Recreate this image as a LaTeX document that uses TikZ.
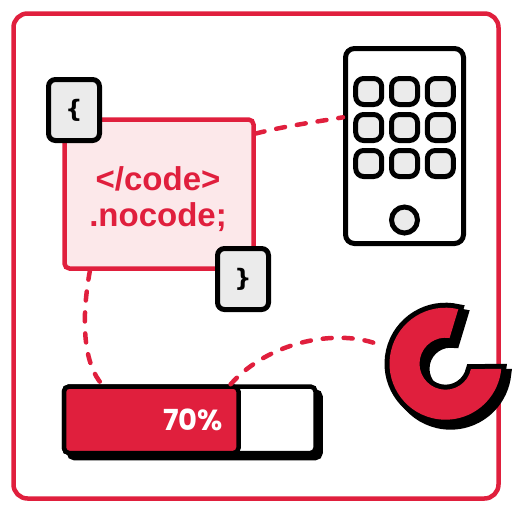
\documentclass[tikz,border=0pt]{standalone}
\usepackage{fontspec}
\setmainfont{Liberation Sans}
\newfontfamily\barfont{Poppins}
\newfontfamily\bracefont{DejaVu Sans}
\usetikzlibrary{calc}
\definecolor{brandred}{HTML}{E01F3D}
\definecolor{codepink}{HTML}{FCE8EA}
\definecolor{keygrey}{HTML}{EBEBEB}
\newcommand{\logoshape}[1]{(#1) ++(-76.8:56) arc[start angle=-76.8,end angle=-354.6,radius=56]
  -- ($(#1)+(-348.2:26)$) arc[start angle=-348.2,end angle=-81,radius=26] -- cycle}

\begin{document}
\begin{tikzpicture}[
  x=1pt,y=-1pt,
  panel/.style={draw=brandred,line width=4.5pt,rounded corners=5pt},
  bracebox/.style={draw=black,fill=keygrey,line width=5pt,rounded corners=7pt,
    minimum width=51pt,minimum height=61pt,inner sep=0pt,
    font=\bracefont\bfseries\fontsize{24}{24}\selectfont},
  appkey/.style={draw=black,fill=keygrey,line width=5pt,rounded corners=8pt,
    minimum size=26pt,inner sep=0pt},
  barbox/.style={draw=black,line width=4.5pt,rounded corners=5pt,inner sep=0pt},
  link/.style={draw=brandred,line width=4.5pt,line cap=round,dash pattern=on 9pt off 12pt}
]
\useasboundingbox (0,0) rectangle (512,512);
\node[panel,rounded corners=14pt,minimum size=485pt] (frame) at (256,256) {};
\node[panel,fill=codepink,minimum width=189pt,minimum height=149pt] (code) at (159,194) {};
\node[font=\bfseries\fontsize{33}{36}\selectfont,align=center,text=brandred,inner sep=0pt] (codetext) at (158,199)
  {</code>\\.nocode;};
\node[bracebox] (openbrace) at (74,110) {\{};
\node[bracebox] (closebrace) at (243,279) {\}};
\node[draw=black,fill=white,line width=5pt,rounded corners=9pt,
  minimum width=118pt,minimum height=195pt] (phone) at (404.5,146) {};
\node[appkey] (keya) at (368.7,91.5) {};
\node[appkey] (keyb) at (404.5,91.5) {};
\node[appkey] (keyc) at (440.3,91.5) {};
\node[appkey] (keyd) at (368.7,127.5) {};
\node[appkey] (keye) at (404.5,127.5) {};
\node[appkey] (keyf) at (440.3,127.5) {};
\node[appkey] (keyg) at (368.7,163.5) {};
\node[appkey] (keyh) at (404.5,163.5) {};
\node[appkey] (keyi) at (440.3,163.5) {};
\node[draw=black,fill=keygrey,line width=5pt,circle,minimum size=26pt,inner sep=0pt] (homekey) at (404.5,220) {};
\node[barbox,fill=black,minimum width=251.5pt,minimum height=66.5pt] (barshadow) at (194.75,424.75) {};
\node[barbox,fill=white,minimum width=251.5pt,minimum height=66.5pt] (bar) at (189.75,419.75) {};
\node[barbox,fill=brandred,minimum width=174.5pt,minimum height=66.5pt,anchor=west] (barfill) at (bar.west) {};
\node[font=\barfont\bfseries\fontsize{29}{29}\selectfont,text=white,inner sep=0pt,anchor=east] (barlabel) at (223,419.5) {70\%};
\coordinate (logo) at (445.5,363.7);
\coordinate (logoshadow) at (450.5,368.7);
\coordinate (logoend) at (381,345.5);
\draw[black,fill=black,line width=10pt] \logoshape{logoshadow};
\draw[black,fill=black,line width=10pt] \logoshape{logo};
\fill[brandred] \logoshape{logo};
\draw[link] (code.32) .. controls (285,126) and (315,122) .. (phone.155);
\draw[link] (code.228) .. controls (80,325) and (85,365) .. (bar.158);
\draw[link] (bar.41) .. controls (270,340) and (340,328) .. (logoend);
\end{tikzpicture}
\end{document}
